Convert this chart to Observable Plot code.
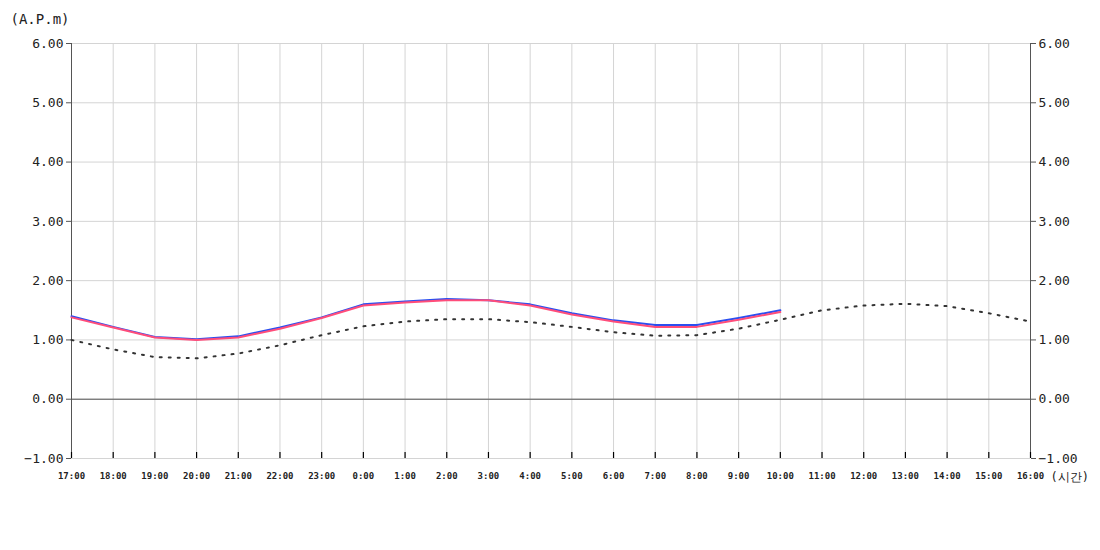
<!DOCTYPE html>
<html><head><meta charset="utf-8">
<script src="https://cdn.jsdelivr.net/npm/d3@7"></script>
<script src="https://cdn.jsdelivr.net/npm/@observablehq/plot@0.6"></script>
<style>body{margin:0;background:#fff;} svg{display:block;}</style>
</head><body><div id="chart"></div>
<script>
const hours = ["17:00","18:00","19:00","20:00","21:00","22:00","23:00","0:00","1:00","2:00","3:00","4:00","5:00","6:00","7:00","8:00","9:00","10:00","11:00","12:00","13:00","14:00","15:00","16:00"];
const blueValues = [1.40,1.22,1.05,1.01,1.06,1.21,1.38,1.60,1.65,1.69,1.67,1.60,1.45,1.33,1.25,1.25,1.37,1.50];
const redValues  = [1.38,1.21,1.04,1.00,1.04,1.19,1.37,1.58,1.63,1.67,1.67,1.58,1.43,1.31,1.22,1.22,1.34,1.47];
const dottedValues = [1.00,0.84,0.71,0.69,0.77,0.91,1.08,1.23,1.31,1.35,1.35,1.30,1.22,1.13,1.07,1.08,1.19,1.34,1.50,1.58,1.61,1.57,1.45,1.31];
const yTicks = [-1,0,1,2,3,4,5,6];
const yLabel = "(A.P.m)";
const xLabel = "(시간)";

const blue = blueValues.map((v,i)=>({h:hours[i], v}));
const red = redValues.map((v,i)=>({h:hours[i], v}));
const dotted = dottedValues.map((v,i)=>({h:hours[i], v}));
const fmt = d3.format(".2f");

const H = 500, MT = 43, MB = 42;
const chart = Plot.plot({
  width: 1100, height: H,
  marginLeft: 71, marginRight: 70, marginTop: MT, marginBottom: MB,
  style: {fontFamily: "DejaVu Sans Mono", fontSize: "13px", color: "#222", background: "#fff"},
  x: {type: "point", domain: hours, padding: 0, round: false},
  y: {domain: [-1, 6]},
  marks: [
    Plot.gridX(hours, {stroke: "#d4d4d4", strokeOpacity: 1}),
    Plot.gridY(yTicks, {stroke: "#d4d4d4", strokeOpacity: 1}),
    Plot.ruleY([0], {stroke: "#555", strokeWidth: 1}),
    Plot.ruleX([hours[0], hours[hours.length-1]], {stroke: "#555"}),
    Plot.axisY(yTicks, {anchor: "left", tickFormat: fmt, tickSize: 5, tickPadding: 3, label: null, stroke: "#555"}),
    Plot.axisY(yTicks, {anchor: "right", tickFormat: fmt, tickSize: 5, tickPadding: 3, label: null, stroke: "#555"}),
    Plot.ruleX(hours, {insetTop: H - MT - MB - 6, stroke: "#000", strokeWidth: 1.2}),
    Plot.axisX(hours, {anchor: "bottom", tickSize: 0, tickPadding: 14, label: null, fontSize: 9, fontWeight: "bold", fill: "#222"}),
    Plot.line(dotted, {x: "h", y: "v", stroke: "#333", strokeWidth: 2, strokeDasharray: "2,7"}),
    Plot.line(blue, {x: "h", y: "v", stroke: "#2b4ff0", strokeWidth: 2}),
    Plot.line(red, {x: "h", y: "v", stroke: "#ff4d7a", strokeWidth: 2}),
    Plot.text([yLabel], {frameAnchor: "top-left", dx: -61, dy: -24, textAnchor: "start", lineAnchor: "middle", fontSize: 14, fill: "#222"}),
    Plot.text([xLabel], {frameAnchor: "bottom-right", dx: 20, dy: 19, textAnchor: "start", lineAnchor: "middle", fontSize: 12, fill: "#222"})
  ]
});
document.getElementById("chart").appendChild(chart);
</script>
</body></html>
